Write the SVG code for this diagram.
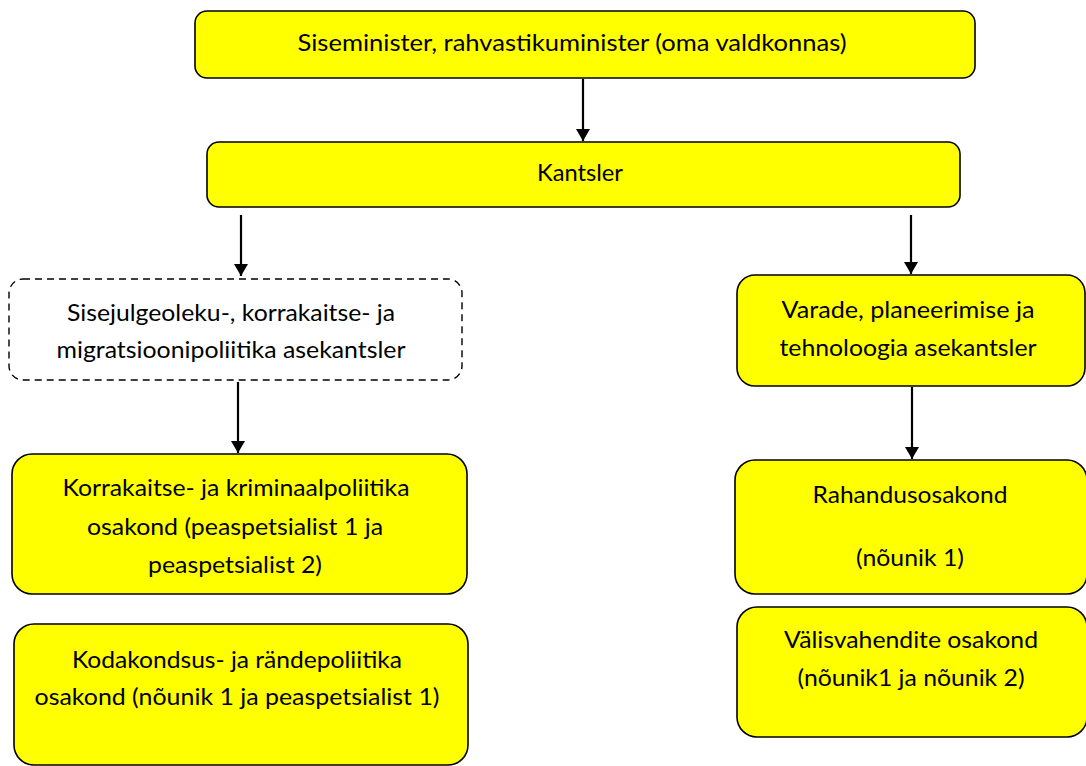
<svg xmlns="http://www.w3.org/2000/svg" width="1086" height="766" viewBox="0 0 1086 766">
<style>
.box{fill:#ffff00;stroke:#000;stroke-width:1.6}
.dash{fill:#fff;stroke:#000;stroke-width:1.4;stroke-dasharray:7 5}
.t{font-family:Lato,"Open Sans","Liberation Sans",sans-serif;font-size:22.5px;fill:#000;text-anchor:middle}
.c{stroke:#000;stroke-width:2.2;fill:none}
</style>
<defs>
<marker id="arr" viewBox="0 0 12 14" refX="12" refY="7" markerWidth="15" markerHeight="14" markerUnits="userSpaceOnUse" orient="auto">
<path d="M0,0 L12,7 L0,14 Z" fill="#000"/>
</marker>
</defs>
<rect width="1086" height="766" fill="#fff"/>
<g id="connectors">
<line class="c" x1="583" y1="79" x2="583" y2="141" marker-end="url(#arr)"/>
<line class="c" x1="241" y1="215" x2="241" y2="276" marker-end="url(#arr)"/>
<line class="c" x1="911" y1="215" x2="911" y2="274" marker-end="url(#arr)"/>
<line class="c" x1="238" y1="382" x2="238" y2="453" marker-end="url(#arr)"/>
<line class="c" x1="912" y1="387" x2="912" y2="459" marker-end="url(#arr)"/>
</g>
<g id="n-minister">
<rect class="box" x="195" y="11" width="780" height="67" rx="12"/>
<text class="t" x="572" y="51" textLength="549" lengthAdjust="spacingAndGlyphs">Siseminister, rahvastikuminister (oma valdkonnas)</text>
</g>
<g id="n-kantsler">
<rect class="box" x="207" y="142" width="753" height="65" rx="12"/>
<text class="t" x="580" y="181" textLength="86" lengthAdjust="spacingAndGlyphs">Kantsler</text>
</g>
<g id="n-asekantsler1">
<rect class="dash" x="9" y="279" width="453" height="101" rx="14"/>
<text class="t" x="231" y="321" textLength="328" lengthAdjust="spacingAndGlyphs">Sisejulgeoleku-, korrakaitse- ja</text>
<text class="t" x="231" y="358" textLength="349" lengthAdjust="spacingAndGlyphs">migratsioonipoliitika asekantsler</text>
</g>
<g id="n-asekantsler2">
<rect class="box" x="737" y="275" width="348" height="111" rx="18"/>
<text class="t" x="908" y="318" textLength="253" lengthAdjust="spacingAndGlyphs">Varade, planeerimise ja</text>
<text class="t" x="908" y="356" textLength="257" lengthAdjust="spacingAndGlyphs">tehnoloogia asekantsler</text>
</g>
<g id="n-korrakaitse">
<rect class="box" x="12" y="454" width="455" height="140" rx="20"/>
<text class="t" x="236" y="496" textLength="347" lengthAdjust="spacingAndGlyphs">Korrakaitse- ja kriminaalpoliitika</text>
<text class="t" x="235" y="535" textLength="296" lengthAdjust="spacingAndGlyphs">osakond (peaspetsialist 1 ja</text>
<text class="t" x="235" y="573" textLength="174" lengthAdjust="spacingAndGlyphs">peaspetsialist 2)</text>
</g>
<g id="n-kodakondsus">
<rect class="box" x="14" y="624" width="454" height="141" rx="20"/>
<text class="t" x="237" y="668" textLength="330" lengthAdjust="spacingAndGlyphs">Kodakondsus- ja rändepoliitika</text>
<text class="t" x="237" y="705" textLength="405" lengthAdjust="spacingAndGlyphs">osakond (nõunik 1 ja peaspetsialist 1)</text>
</g>
<g id="n-rahandus">
<rect class="box" x="735" y="460" width="352" height="134" rx="20"/>
<text class="t" x="910" y="503" textLength="195" lengthAdjust="spacingAndGlyphs">Rahandusosakond</text>
<text class="t" x="910" y="566" textLength="108" lengthAdjust="spacingAndGlyphs">(nõunik 1)</text>
</g>
<g id="n-valisvahendid">
<rect class="box" x="737" y="607" width="350" height="130" rx="20"/>
<text class="t" x="911" y="648" textLength="254" lengthAdjust="spacingAndGlyphs">Välisvahendite osakond</text>
<text class="t" x="911" y="686" textLength="227" lengthAdjust="spacingAndGlyphs">(nõunik1 ja nõunik 2)</text>
</g>
</svg>
